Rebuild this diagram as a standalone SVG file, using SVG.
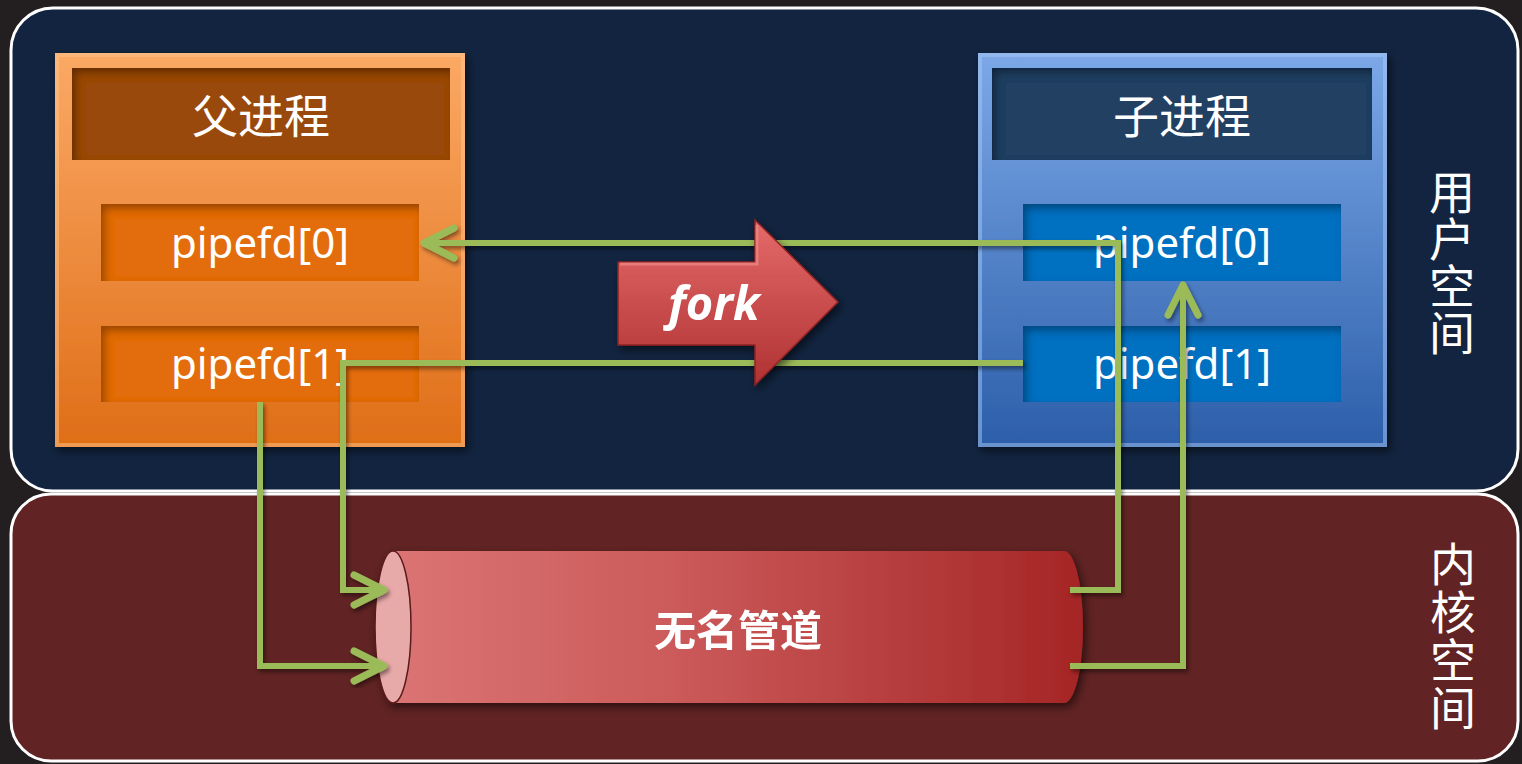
<svg xmlns="http://www.w3.org/2000/svg" width="1522" height="764" viewBox="0 0 1522 764">
<defs>
<linearGradient id="gOrange" x1="0" y1="0" x2="0" y2="1"><stop offset="0" stop-color="#fba965"/><stop offset="1" stop-color="#df6e17"/></linearGradient>
<linearGradient id="gBlue" x1="0" y1="0" x2="0" y2="1"><stop offset="0" stop-color="#7ca8e8"/><stop offset="1" stop-color="#2c5ea9"/></linearGradient>
<linearGradient id="gPipe" x1="0" y1="0" x2="1" y2="0"><stop offset="0" stop-color="#db7474"/><stop offset="0.4" stop-color="#cc5b5b"/><stop offset="1" stop-color="#a52525"/></linearGradient>
<linearGradient id="gFork" x1="0" y1="0" x2="0" y2="1"><stop offset="0" stop-color="#e56a6a"/><stop offset="1" stop-color="#b03232"/></linearGradient>
<filter id="drop" x="-10%" y="-10%" width="125%" height="125%"><feDropShadow dx="3" dy="4" stdDeviation="4" flood-color="#000" flood-opacity="0.55"/></filter>
<filter id="lineShadow" x="-5%" y="-5%" width="110%" height="110%"><feDropShadow dx="2" dy="3" stdDeviation="2" flood-color="#000" flood-opacity="0.45"/></filter>
<filter id="inset" x="-20%" y="-30%" width="140%" height="160%">
<feFlood flood-color="#000" flood-opacity="0.6" result="f"/>
<feComposite in="f" in2="SourceAlpha" operator="out" result="o"/>
<feGaussianBlur in="o" stdDeviation="4" result="b"/>
<feOffset in="b" dx="4" dy="5" result="ob"/>
<feComposite in="ob" in2="SourceAlpha" operator="in" result="s"/>
<feMerge><feMergeNode in="SourceGraphic"/><feMergeNode in="s"/></feMerge>
</filter>
<marker id="chev" markerUnits="userSpaceOnUse" viewBox="-40 -22 46 44" markerWidth="46" markerHeight="44" refX="0" refY="0" orient="auto" overflow="visible">
<path d="M-30,-15 L0,0 L-30,15" fill="none" stroke="#9bbb59" stroke-width="7" stroke-linecap="round" stroke-linejoin="round"/>
</marker>
<style>
.cn{font-family:"Noto Sans CJK SC","Noto Sans",sans-serif;fill:#fff}
.vt{font-family:"Noto Sans CJK SC",sans-serif;fill:#fff;font-size:46px;writing-mode:vertical-rl;letter-spacing:1px}
.fd{font-family:"Noto Sans","Open Sans",sans-serif;font-size:42px;fill:#fff;text-anchor:middle}
.conn{fill:none;stroke:#9bbb59;stroke-width:6;stroke-linejoin:miter}
</style>
</defs>
<rect x="0" y="0" width="1522" height="764" fill="#231f20"/>
<g id="user-space">
<rect x="11" y="8" width="1507" height="483" rx="42" fill="#12243f" stroke="#fff" stroke-width="3"/>
<text class="vt" x="1452" y="169">用户空间</text>
</g>
<g id="kernel-space">
<rect x="11" y="494" width="1507" height="267" rx="40" fill="#612323" stroke="#fff" stroke-width="3"/>
<text class="vt" x="1453" y="541" style="letter-spacing:2px">内核空间</text>
</g>
<g id="parent">
<rect x="55" y="53" width="410" height="394" fill="url(#gOrange)" filter="url(#drop)"/>
<rect x="57" y="55" width="406" height="390" fill="none" stroke="#ffc58f" stroke-opacity="0.5" stroke-width="4"/>
<rect x="72" y="68" width="378" height="92" fill="#9a4807" filter="url(#inset)"/>
<text class="cn" x="261" y="133" font-size="46" text-anchor="middle">父进程</text>
<rect x="101" y="204" width="318" height="77" fill="#e36c0a" filter="url(#inset)"/>
<text class="fd" x="260" y="258">pipefd[0]</text>
<rect x="101" y="326" width="318" height="76" fill="#e36c0a" filter="url(#inset)"/>
<text class="fd" x="260" y="379">pipefd[1]</text>
</g>
<g id="child">
<rect x="978" y="53" width="409" height="394" fill="url(#gBlue)" filter="url(#drop)"/>
<rect x="980" y="55" width="405" height="390" fill="none" stroke="#a8c8f4" stroke-opacity="0.5" stroke-width="4"/>
<rect x="992" y="68" width="380" height="92" fill="#243f62" filter="url(#inset)"/>
<text class="cn" x="1182" y="133" font-size="46" text-anchor="middle">子进程</text>
<rect x="1023" y="204" width="318" height="77" fill="#0070c0" filter="url(#inset)"/>
<text class="fd" x="1182" y="258">pipefd[0]</text>
<rect x="1023" y="326" width="318" height="76" fill="#0070c0" filter="url(#inset)"/>
<text class="fd" x="1182" y="379">pipefd[1]</text>
</g>
<g id="pipe" filter="url(#drop)">
<path d="M393,551 H1064 A19,76 0 0 1 1064,703 H393 Z" fill="url(#gPipe)"/>
<ellipse cx="393" cy="627" rx="18" ry="76" fill="#e8a9a9" stroke="#5a1a1a" stroke-width="1.5"/>
<text class="cn" x="738" y="646" font-size="42" font-weight="700" text-anchor="middle">无名管道</text>
</g>
<g id="connectors" filter="url(#lineShadow)">
<path class="conn" d="M1070,590 H1118 V243 H424" marker-end="url(#chev)"/>
<path class="conn" d="M1070,666 H1183 V285" marker-end="url(#chev)"/>
<path class="conn" d="M1023,363 H343 V590 H384" marker-end="url(#chev)"/>
<path class="conn" d="M260,402 V666 H384" marker-end="url(#chev)"/>
</g>
<g id="fork" filter="url(#drop)">
<polygon points="618,262 755,262 755,220 838,302 755,385 755,345 618,345" fill="url(#gFork)" stroke="#8e2424" stroke-width="1.5"/>
<polyline points="620,264 757,264 757,225" fill="none" stroke="#f08a8a" stroke-width="3" stroke-opacity="0.7"/>
<text x="714" y="320" font-family="'Noto Sans','Open Sans',sans-serif" font-size="47" font-weight="700" font-style="italic" fill="#fff" text-anchor="middle">fork</text>
</g>
</svg>
